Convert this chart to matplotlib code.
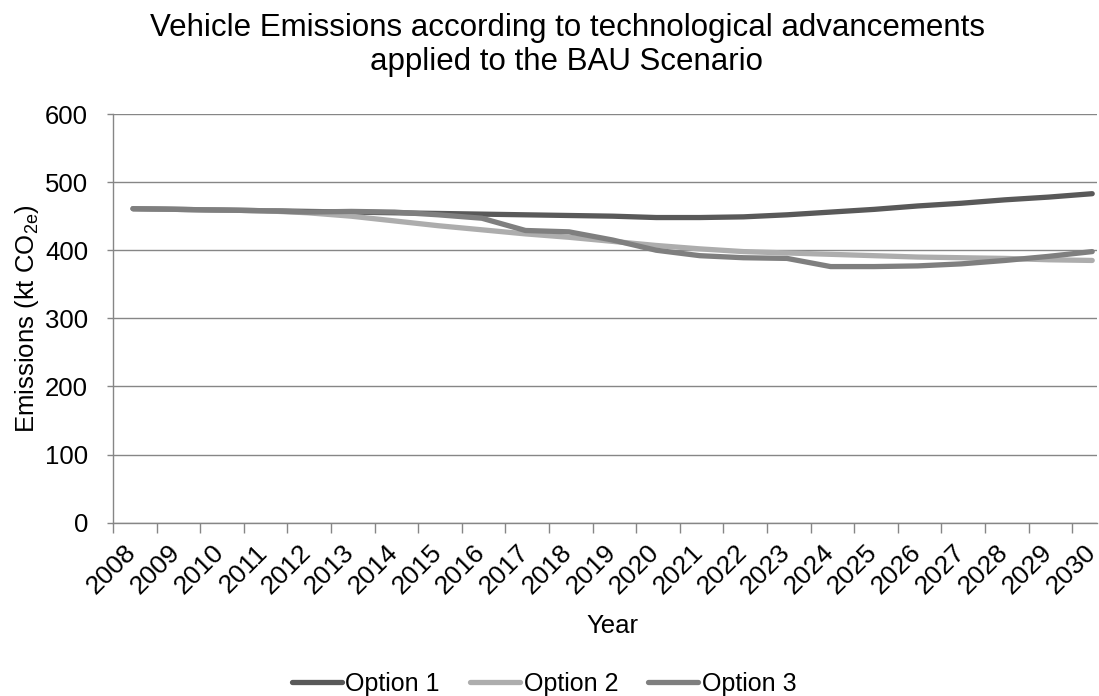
import matplotlib
matplotlib.use("Agg")
import matplotlib.pyplot as plt
import matplotlib.transforms as mtransforms
import numpy as np

years = [str(y) for y in range(2008, 2031)]
option1 = [461, 460, 459, 458, 457, 456, 455, 454, 453, 452, 451, 450, 448, 448, 449, 452, 456, 460, 465, 469, 474, 478, 483]
option2 = [461, 460, 459, 458, 455, 450, 443, 436, 430, 424, 419, 413, 407, 402, 398, 396, 394, 392, 390, 389, 388, 386, 385]
option3 = [461, 460, 459, 458, 456, 457, 456, 452, 447, 429, 427, 415, 400, 392, 389, 388, 376, 376, 377, 380, 385, 391, 398]
series_names = ["Option 1", "Option 2", "Option 3"]
colors = ["#595959", "#ADADAD", "#7F7F7F"]

plt.rcParams['font.family'] = ['Liberation Sans', 'DejaVu Sans']
plt.rcParams['mathtext.default'] = 'regular'

fig = plt.figure(figsize=(10.99, 6.96), dpi=100)
W, H = 1099, 696
left, right, top, bottom = 113, 1097, 114, 522.7
ax = fig.add_axes([left / W, 1 - bottom / H, (right - left) / W, (bottom - top) / H])

x = np.arange(len(years))
for vals, name, c in zip([option1, option2, option3], series_names, colors):
    ax.plot(x, vals, color=c, lw=3.8, solid_capstyle='round', solid_joinstyle='round', label=name)

ax.set_ylim(0, 600)
ax.set_yticks(range(0, 601, 100))
ax.set_xlim(-0.46, 22.11)
ax.grid(axis='y', color='#868686', lw=1.0)
ax.set_axisbelow(True)
for s in ['top', 'right']:
    ax.spines[s].set_visible(False)
for s in ['left', 'bottom']:
    ax.spines[s].set_color('#868686')
    ax.spines[s].set_linewidth(1.0)

ax.set_xticks(x)
ax.set_xticklabels(years, rotation=45, ha='right', va='top', rotation_mode='anchor', fontsize=19)
ax.tick_params(axis='x', which='major', length=0, pad=12.5)
shift = mtransforms.ScaledTranslation(-9 / 100, 0, fig.dpi_scale_trans)
for lbl in ax.get_xticklabels():
    lbl.set_transform(lbl.get_transform() + shift)
ax.set_xticks(np.arange(-0.46, 22.2, 1.0), minor=True)
ax.tick_params(axis='x', which='minor', length=7, color='#868686', width=1.0, direction='out')
ax.tick_params(axis='y', length=4, color='#868686', width=1.0, labelsize=18.5, pad=14)

ax.set_ylabel("Emissions (kt CO$_{2e}$)", fontsize=18.5)
ax.yaxis.set_label_coords((27 - left) / (right - left), 0.5)
ax.set_xlabel("Year", fontsize=18.5)
ax.xaxis.set_label_coords((612 - left) / (right - left), -(626 - bottom) / (bottom - top))
ax.xaxis.label.set_va('center')
ax.yaxis.label.set_va('center')

fig.text(567 / W, 1 - 45 / H, "Vehicle Emissions according to technological advancements\napplied to the BAU Scenario",
         ha='center', va='center', fontsize=22.5, linespacing=1.2)

leg = fig.legend(loc='center', bbox_to_anchor=(544 / W, 1 - 684 / H), ncol=3, frameon=False,
                 fontsize=18, handlelength=2.0, handletextpad=0.15, columnspacing=1.2)

fig.savefig("out.png", dpi=100)
